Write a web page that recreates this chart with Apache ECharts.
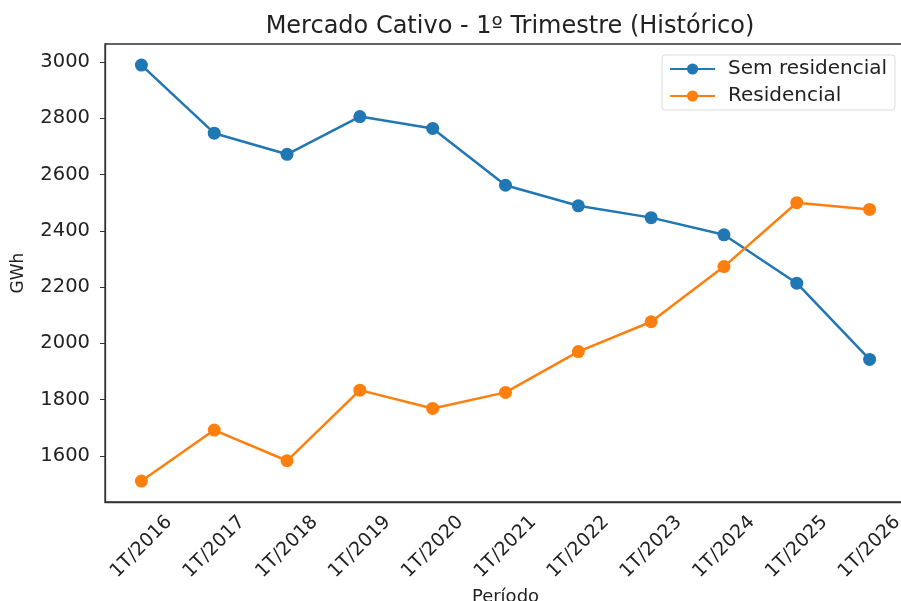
<!DOCTYPE html>
<html><head><meta charset="utf-8">
<script src="https://cdn.jsdelivr.net/npm/echarts@6/dist/echarts.min.js"></script>
<style>html,body{margin:0;padding:0;background:#fff}#c{width:901px;height:601px}</style>
</head><body><div id="c"></div>
<script>
const categories = ['1T/2016','1T/2017','1T/2018','1T/2019','1T/2020','1T/2021','1T/2022','1T/2023','1T/2024','1T/2025','1T/2026'];
const semResidencial = [2989, 2747, 2672, 2806, 2764, 2562, 2489, 2447, 2386, 2214, 1943];
const residencial = [1511, 1692, 1583, 1834, 1769, 1826, 1971, 2077, 2273, 2500, 2476];
const yTicks = [1600, 1800, 2000, 2200, 2400, 2600, 2800, 3000];

const font = 'DejaVu Sans';
const chart = echarts.init(document.getElementById('c'), null, {renderer:'canvas'});
chart.setOption({
  animation: false,
  backgroundColor: '#fff',
  title: {
    text: 'Mercado Cativo - 1º Trimestre (Histórico)',
    left: 505, textAlign: 'center', top: 10,
    textStyle: {fontFamily: font, fontSize: 24, fontWeight: 'normal', color: '#222'}
  },
  legend: {
    orient: 'vertical', right: 6, top: 55,
    itemWidth: 45, itemHeight: 14, itemGap: 7,
    padding: [4, 8, 4, 7],
    borderColor: '#dcdcdc', borderWidth: 1, borderRadius: 3,
    textStyle: {fontFamily: font, fontSize: 20, color: '#222', padding: [0, 0, 0, 8]},
    data: ['Sem residencial', 'Residencial']
  },
  grid: {left: 105, top: 44, width: 801, height: 458, show: true, borderColor: '#333', borderWidth: 1.3, outerBoundsMode: 'none', containLabel: false},
  xAxis: {
    type: 'category', data: categories, boundaryGap: true,
    name: 'Período', nameLocation: 'middle', nameGap: 85,
    nameTextStyle: {fontFamily: font, fontSize: 18, color: '#222', verticalAlign: 'top'},
    axisLine: {lineStyle: {color: '#333', width: 1.3}},
    axisTick: {alignWithLabel: true, length: 5, lineStyle: {color: '#333'}},
    axisLabel: {rotate: 45, align: 'center', verticalAlign: 'middle', fontFamily: font, fontSize: 19, color: '#222', margin: 45, interval: 0}
  },
  yAxis: {
    type: 'value', min: 1436.5, max: 3064,
    name: 'GWh', nameLocation: 'middle', nameGap: 78,
    nameTextStyle: {fontFamily: font, fontSize: 17, color: '#222'},
    splitLine: {show: false},
    axisLine: {show: true, lineStyle: {color: '#333', width: 1.3}},
    axisTick: {show: true, length: 5, customValues: yTicks, lineStyle: {color: '#333'}},
    axisLabel: {fontFamily: font, fontSize: 19.5, color: '#222', margin: 15, customValues: yTicks, formatter: v => String(v)}
  },
  series: [
    {name: 'Sem residencial', type: 'line', data: semResidencial, symbol: 'circle', symbolSize: 13,
     lineStyle: {color: '#1f77b4', width: 2.5}, itemStyle: {color: '#1f77b4'}},
    {name: 'Residencial', type: 'line', data: residencial, symbol: 'circle', symbolSize: 13,
     lineStyle: {color: '#ff7f0e', width: 2.5}, itemStyle: {color: '#ff7f0e'}}
  ]
});
</script></body></html>
